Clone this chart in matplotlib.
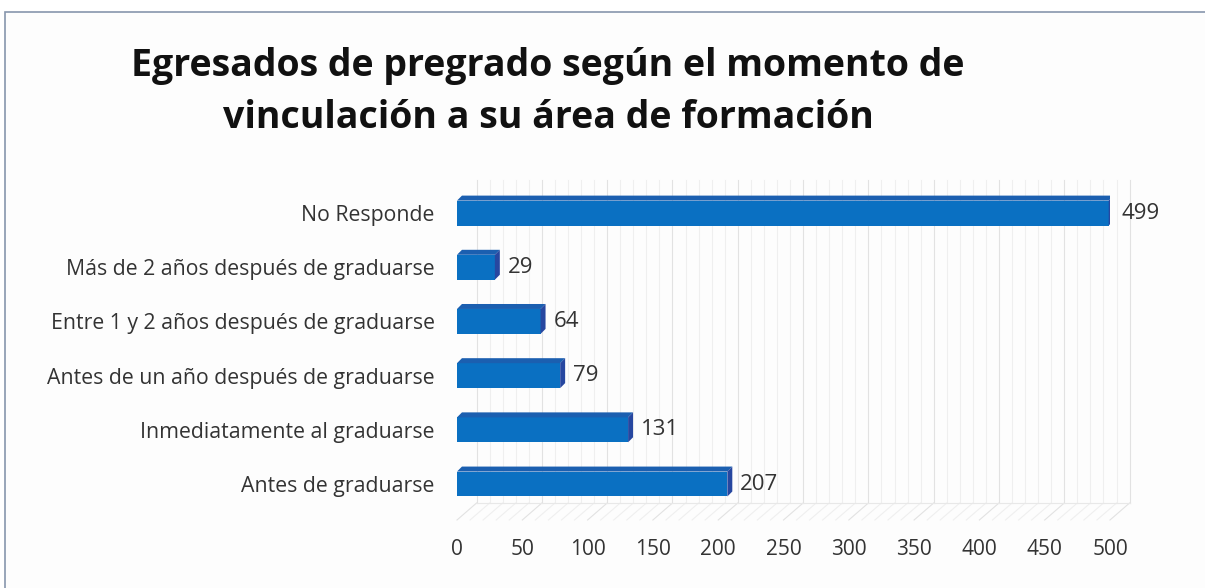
import numpy as np
import matplotlib.pyplot as plt
from matplotlib.patches import Polygon, Rectangle

categories = ['Antes de graduarse', 'Inmediatamente al graduarse',
              'Antes de un año después de graduarse', 'Entre 1 y 2 años después de graduarse',
              'Más de 2 años después de graduarse', 'No Responde']
values = [207, 131, 79, 64, 29, 499]
xticks = [0, 50, 100, 150, 200, 250, 300, 350, 400, 450, 500]
title = 'Egresados de pregrado según el momento de\nvinculación a su área de formación'

plt.rcParams['font.family'] = ['Open Sans', 'DejaVu Sans']

fig = plt.figure(figsize=(12.05, 5.88), dpi=100)
fig.patch.set_facecolor('white')
# chart frame
fig.add_artist(Rectangle((5 / 1205, -0.05), 1.2, 1 - 12 / 588 + 0.05, transform=fig.transFigure,
                         facecolor='#fdfdfd', edgecolor='#8796ad', linewidth=1.2, zorder=0))

ax = fig.add_axes([457 / 1205, 1 - 520 / 588, 653 / 1205, 340 / 588])
ax.set_xlim(0, 500)
ax.set_ylim(-0.664, 5.61)
ax.patch.set_alpha(0)
for s in ax.spines.values():
    s.set_visible(False)

# 3D geometry (data units)
h = 0.46
dx, dy = 3.8, 0.092
floor_front, floor_back = -0.664, -0.35
fdx = 15

# back wall gridlines and floor lines
for gx in range(0, 501, 10):
    col = '#e2e2e2' if gx % 50 == 0 else '#efefef'
    ax.plot([gx + fdx, gx + fdx], [floor_back, 5.61], color=col, lw=0.8, zorder=1, clip_on=False)
    ax.plot([gx, gx + fdx], [floor_front, floor_back], color=col, lw=0.8, zorder=1, clip_on=False)
ax.plot([fdx, 500 + fdx], [floor_back, floor_back], color='#e8e8e8', lw=0.8, zorder=1, clip_on=False)

y = np.arange(len(categories))
ax.barh(y, values, height=h, color='#0a70c2', edgecolor='none', zorder=3)
for yi, v in zip(y, values):
    top = yi + h / 2
    bot = yi - h / 2
    ax.add_patch(Polygon([[0, top], [v, top], [v + dx, top + dy], [dx, top + dy]],
                         closed=True, facecolor='#1b5fb0', edgecolor='none', zorder=3))
    ax.add_patch(Polygon([[v, bot], [v, top], [v + dx, top + dy], [v + dx, bot + dy]],
                         closed=True, facecolor='#2747a0', edgecolor='none', zorder=3))
    ax.text(v + dx + 6, yi, str(v), va='center', ha='left', fontsize=16, color='#333333', zorder=4)

ax.set_yticks(y)
ax.set_yticklabels(categories, fontsize=15.3, color='#333333')
ax.set_xticks(xticks)
ax.set_xticklabels([str(t) for t in xticks], fontsize=15, color='#333333')
ax.tick_params(axis='y', length=0, pad=16)
ax.tick_params(axis='x', length=0, pad=14)

fig.text(548 / 1205, 1 - 92 / 588, title, ha='center', va='center', fontsize=27,
         fontweight='bold', color='#111111', linespacing=1.45)

fig.savefig('out.png', dpi=100)
